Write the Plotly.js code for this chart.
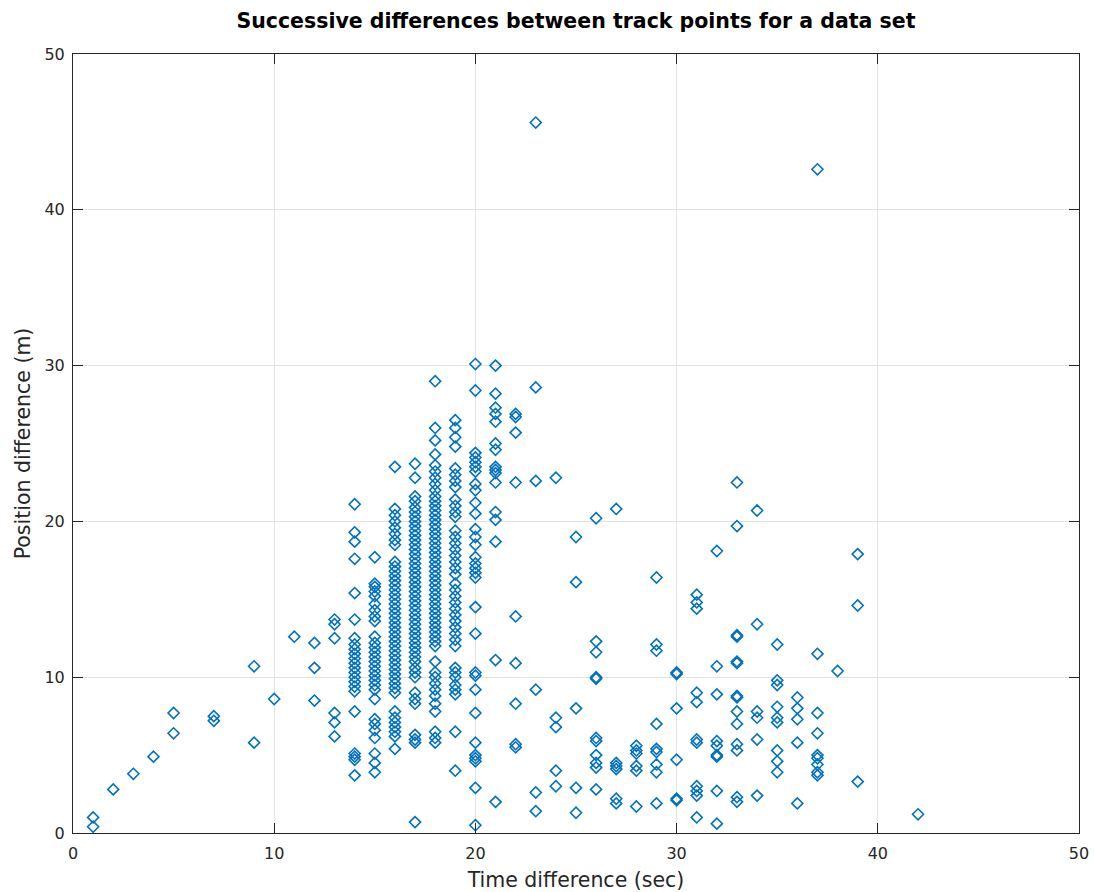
<!DOCTYPE html>
<html>
<head>
<meta charset="utf-8">
<script src="https://cdn.plot.ly/plotly-3.0.1.min.js"></script>
<style>html,body{margin:0;padding:0;background:#fff;}#chart{width:1095px;height:892px;}</style>
</head>
<body>
<div id="chart"></div>
<script>
// Time difference (sec) of each column of points
const timeSteps = [1,2,3,4,5,7,9,10,11,12,13,14,15,16,17,18,19,20,21,22,23,24,25,26,27,28,29,30,31,32,33,34,35,36,37,38,39,42];

// Position difference (m) values observed at each time difference
const pos_t1  = [1.0, 0.4];
const pos_t2  = [2.8];
const pos_t3  = [3.8];
const pos_t4  = [4.9];
const pos_t5  = [7.7, 6.4];
const pos_t7  = [7.5, 7.2];
const pos_t9  = [10.7, 5.8];
const pos_t10 = [8.6];
const pos_t11 = [12.6];
const pos_t12 = [12.2, 10.6, 8.5];
const pos_t13 = [13.7, 13.4, 12.5, 7.7, 7.1, 6.2];
const pos_t14 = [21.1, 19.3, 18.7, 17.6, 15.4, 13.7, 12.5, 12.1, 11.8, 11.5, 11.2, 10.9, 10.6, 10.3, 10.0, 9.7, 9.4, 9.1, 7.8, 5.1, 4.9, 4.7, 3.7];
const pos_t15 = [17.7, 16.0, 15.8, 15.5, 15.2, 14.7, 14.3, 13.9, 13.6, 12.6, 12.2, 11.9, 11.6, 11.3, 11.0, 10.7, 10.4, 10.1, 9.8, 9.5, 9.2, 8.6, 7.3, 7.0, 6.6, 6.1, 5.1, 4.5, 3.9];
const pos_t16 = [23.5, 20.8, 20.4, 20.0, 19.6, 19.2, 18.8, 18.5, 17.4, 17.1, 16.8, 16.5, 16.2, 15.9, 15.6, 15.3, 15.0, 14.7, 14.4, 14.1, 13.8, 13.5, 13.2, 12.9, 12.6, 12.3, 12.0, 11.7, 11.4, 11.1, 10.8, 10.5, 10.2, 9.9, 9.6, 9.3, 9.0, 7.8, 7.4, 7.1, 6.8, 6.5, 6.2, 5.4];
const pos_t17 = [23.7, 22.8, 21.6, 21.3, 20.9, 20.6, 20.3, 20.0, 19.7, 19.4, 19.1, 18.8, 18.5, 18.2, 17.9, 17.6, 17.3, 17.0, 16.7, 16.4, 16.1, 15.8, 15.5, 15.2, 14.9, 14.6, 14.3, 14.0, 13.7, 13.4, 13.1, 12.8, 12.5, 12.2, 11.9, 11.6, 11.3, 11.0, 10.6, 10.3, 10.0, 9.0, 8.6, 8.3, 6.3, 6.0, 5.8, 0.7];
const pos_t18 = [29.0, 26.0, 25.2, 24.3, 23.6, 23.2, 22.8, 22.4, 22.0, 21.6, 21.3, 21.0, 20.7, 20.4, 20.1, 19.8, 19.5, 19.2, 18.9, 18.6, 18.3, 18.0, 17.7, 17.4, 17.1, 16.8, 16.5, 16.2, 15.9, 15.6, 15.3, 15.0, 14.7, 14.4, 14.1, 13.8, 13.5, 13.2, 12.9, 12.6, 12.3, 12.0, 11.0, 10.3, 10.0, 9.6, 9.2, 8.8, 8.3, 7.8, 6.5, 6.1, 5.8];
const pos_t19 = [26.5, 26.0, 25.4, 24.8, 23.4, 23.0, 22.6, 22.2, 21.4, 21.0, 20.6, 20.3, 19.4, 19.0, 18.6, 18.2, 17.8, 17.4, 17.0, 16.6, 16.0, 15.6, 15.2, 14.8, 14.4, 14.0, 13.6, 13.2, 12.8, 12.4, 12.0, 10.6, 10.3, 10.0, 9.5, 9.2, 8.9, 6.5, 4.0];
const pos_t20 = [30.1, 28.4, 24.4, 24.1, 23.8, 23.5, 23.2, 22.4, 22.0, 21.2, 20.5, 19.5, 19.0, 18.5, 17.7, 17.3, 17.0, 16.7, 16.4, 14.5, 12.8, 10.3, 10.1, 9.2, 7.7, 5.8, 5.0, 4.8, 4.6, 2.9, 0.5];
const pos_t21 = [30.0, 28.2, 27.3, 26.9, 26.4, 25.0, 24.6, 23.5, 23.3, 23.1, 22.5, 20.6, 20.1, 18.7, 11.1, 2.0];
const pos_t22 = [26.9, 26.7, 25.7, 22.5, 13.9, 10.9, 8.3, 5.7, 5.5];
const pos_t23 = [45.6, 28.6, 22.6, 9.2, 2.6, 1.4];
const pos_t24 = [22.8, 7.4, 6.8, 4.0, 3.0];
const pos_t25 = [19.0, 16.1, 8.0, 2.9, 1.3];
const pos_t26 = [20.2, 12.3, 11.6, 10.0, 9.9, 6.1, 5.9, 5.0, 4.5, 4.2, 2.8];
const pos_t27 = [20.8, 4.5, 4.3, 4.1, 2.2, 1.9];
const pos_t28 = [5.6, 5.3, 5.1, 4.3, 4.0, 1.7];
const pos_t29 = [16.4, 12.1, 11.7, 7.0, 5.4, 5.2, 4.4, 3.9, 1.9];
const pos_t30 = [10.3, 10.2, 8.0, 4.7, 2.2, 2.1];
const pos_t31 = [15.3, 14.8, 14.4, 9.0, 8.4, 6.0, 5.8, 3.0, 2.7, 2.4, 1.0];
const pos_t32 = [18.1, 10.7, 8.9, 5.9, 5.6, 5.0, 4.9, 2.7, 0.6];
const pos_t33 = [22.5, 19.7, 12.7, 12.6, 11.0, 10.9, 8.8, 8.7, 7.8, 7.0, 5.7, 5.3, 2.3, 2.0];
const pos_t34 = [20.7, 13.4, 7.8, 7.4, 6.0, 2.4];
const pos_t35 = [12.1, 9.8, 9.5, 8.1, 7.4, 7.1, 5.3, 4.6, 3.9];
const pos_t36 = [8.7, 8.0, 7.3, 5.8, 1.9];
const pos_t37 = [42.6, 11.5, 7.7, 6.4, 5.0, 4.8, 4.4, 3.9, 3.7];
const pos_t38 = [10.4];
const pos_t39 = [17.9, 14.6, 3.3];
const pos_t42 = [1.2];

const columns = [pos_t1,pos_t2,pos_t3,pos_t4,pos_t5,pos_t7,pos_t9,pos_t10,pos_t11,pos_t12,pos_t13,pos_t14,pos_t15,pos_t16,pos_t17,pos_t18,pos_t19,pos_t20,pos_t21,pos_t22,pos_t23,pos_t24,pos_t25,pos_t26,pos_t27,pos_t28,pos_t29,pos_t30,pos_t31,pos_t32,pos_t33,pos_t34,pos_t35,pos_t36,pos_t37,pos_t38,pos_t39,pos_t42];

const xs = [], ys = [];
columns.forEach((col, i) => { col.forEach(v => { xs.push(timeSteps[i]); ys.push(v); }); });

const axisColor = '#262626';
const fontFam = 'DejaVu Sans, Liberation Sans, sans-serif';

const trace = {
  x: xs, y: ys, type: 'scatter', mode: 'markers',
  marker: {symbol: 'diamond-open', size: 8.5, color: '#0072BD', line: {width: 1.6, color: '#0072BD'}},
  hoverinfo: 'x+y'
};

const axisCommon = {
  range: [0, 50], dtick: 10, tick0: 0,
  showgrid: true, gridcolor: '#e3e3e3', gridwidth: 1,
  zeroline: false, showline: true, linecolor: axisColor, linewidth: 1,
  mirror: 'ticks', ticks: 'inside', ticklen: 10, tickwidth: 1, tickcolor: axisColor,
  tickfont: {family: fontFam, size: 16, color: axisColor}
};

const layout = {
  width: 1095, height: 892,
  margin: {l: 73, r: 16, t: 54, b: 59},
  paper_bgcolor: '#ffffff', plot_bgcolor: '#ffffff',
  showlegend: false,
  title: {text: '<b>Successive differences between track points for a data set</b>',
          font: {family: fontFam, size: 20.5, color: '#000000'}, x: 0.526, xanchor: 'center', y: 0.977, yanchor: 'middle'},
  xaxis: Object.assign({}, axisCommon, {
    ticklabelstandoff: 6,
    title: {text: 'Time difference (sec)', font: {family: fontFam, size: 20.5, color: axisColor}, standoff: 12}
  }),
  yaxis: Object.assign({}, axisCommon, {
    ticklabelstandoff: 4,
    title: {text: 'Position difference (m)', font: {family: fontFam, size: 20.5, color: axisColor}, standoff: 8}
  })
};

Plotly.newPlot('chart', [trace], layout, {displayModeBar: false, staticPlot: true});
</script>
</body>
</html>
